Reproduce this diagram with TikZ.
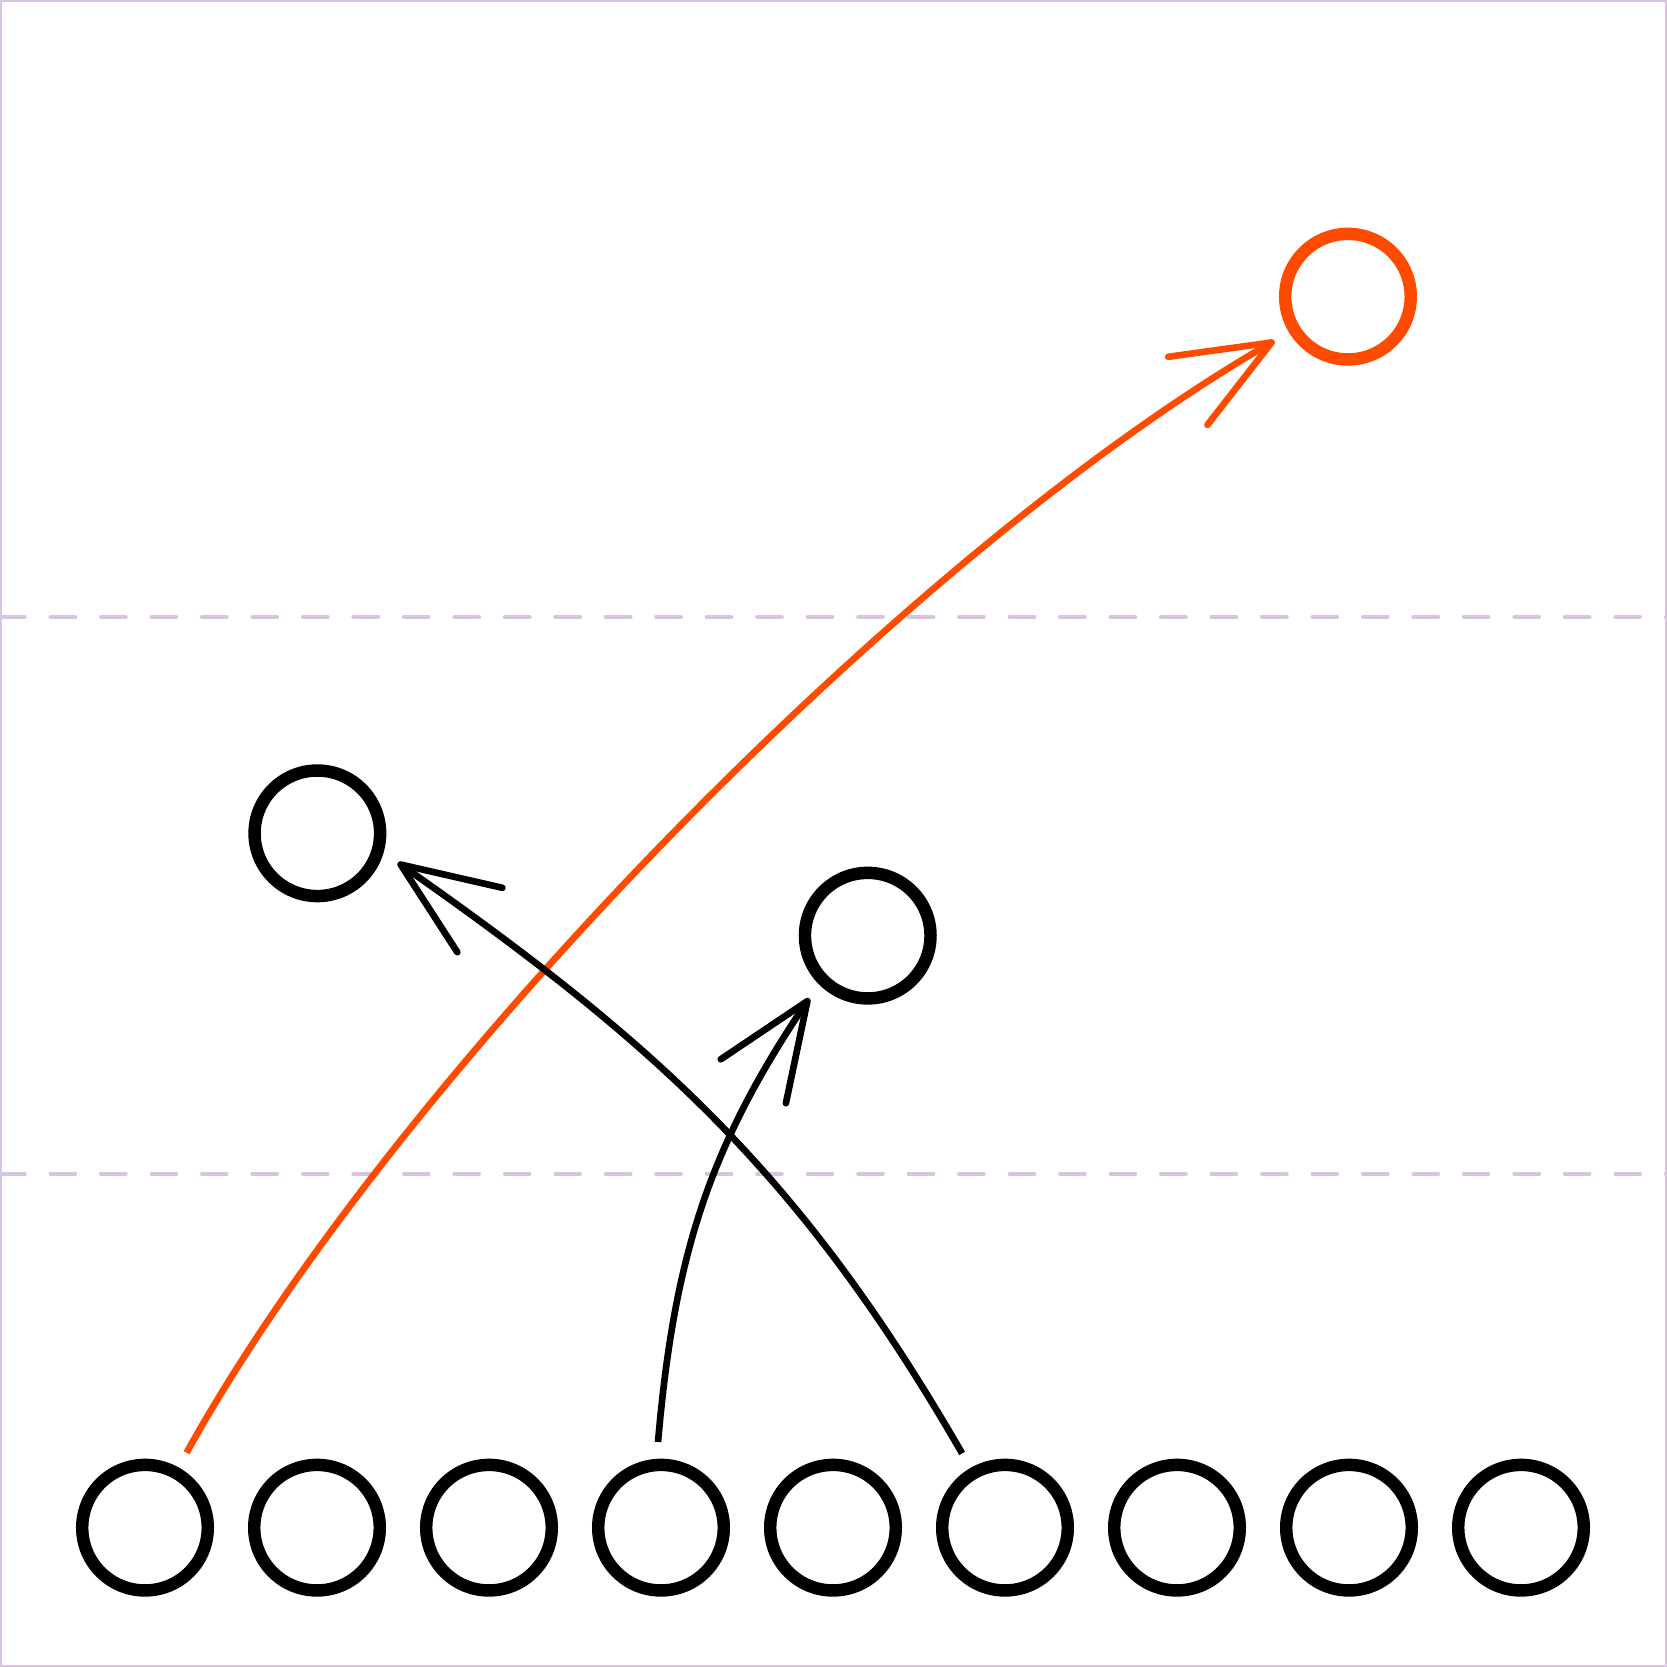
\documentclass[tikz,border=0pt]{standalone}
\usepackage{tikz}
\usetikzlibrary{arrows.meta}
\definecolor{route}{RGB}{255, 75, 0}
\definecolor{lilac}{RGB}{216, 196, 224}
\tikzstyle{player}=[circle, draw, line width=2.06pt, minimum size=0.73cm, inner sep=0pt, outer sep=3.8pt]
\tikzstyle{yardline}=[draw=lilac, line width=0.66pt, line cap=round, dash pattern=on 4.1pt off 4.25pt]
\tikzstyle{run}=[draw, line width=1.1pt, -{Straight Barb[length=16pt, width=13pt, round]}]

\begin{document}
\begin{tikzpicture}[node distance=1cm]
      %
      \path[use as bounding box] (0,0) rectangle (9.692,9.692);
      \path[draw=lilac, line width=0.8pt] (0,0) rectangle (9.692,9.692);
      %
      % Yard lines
      %
      \path[yardline] (0,6.105) -- (9.692,6.105);
      \path[yardline] (0,2.868) -- (9.692,2.868);
      %
      % Line of scrimmage
      %
      \node[player] (p1) at (0.843,0.810) {};
      \node[player, right of=p1] (p2) {};
      \node[player, right of=p2] (p3) {};
      \node[player, right of=p3] (p4) {};
      \node[player, right of=p4] (p5) {};
      \node[player, right of=p5] (p6) {};
      \node[player, right of=p6] (p7) {};
      \node[player, right of=p7] (p8) {};
      \node[player, right of=p8] (p9) {};
      %
      % Players in the field
      %
      \node[player] (left) at (1.845,4.847) {};
      \node[player] (mid) at (5.045,4.252) {};
      \node[player, draw=route] (deep) at (7.837,7.967) {};
      %
      % p1 --> deep*
      %
      \path[run, draw=route] (p1.61) to[out=61, in=210, looseness=0.7] (deep.211);
      %
      % p4 --> mid
      %
      \path[run] (p4.92) to[out=85, in=236] (mid.227);
      %
      % p6 --> left
      %
      \path[run] (p6.120) to[out=120, in=-35] (left.-20);
      %
\end{tikzpicture}
\end{document}
